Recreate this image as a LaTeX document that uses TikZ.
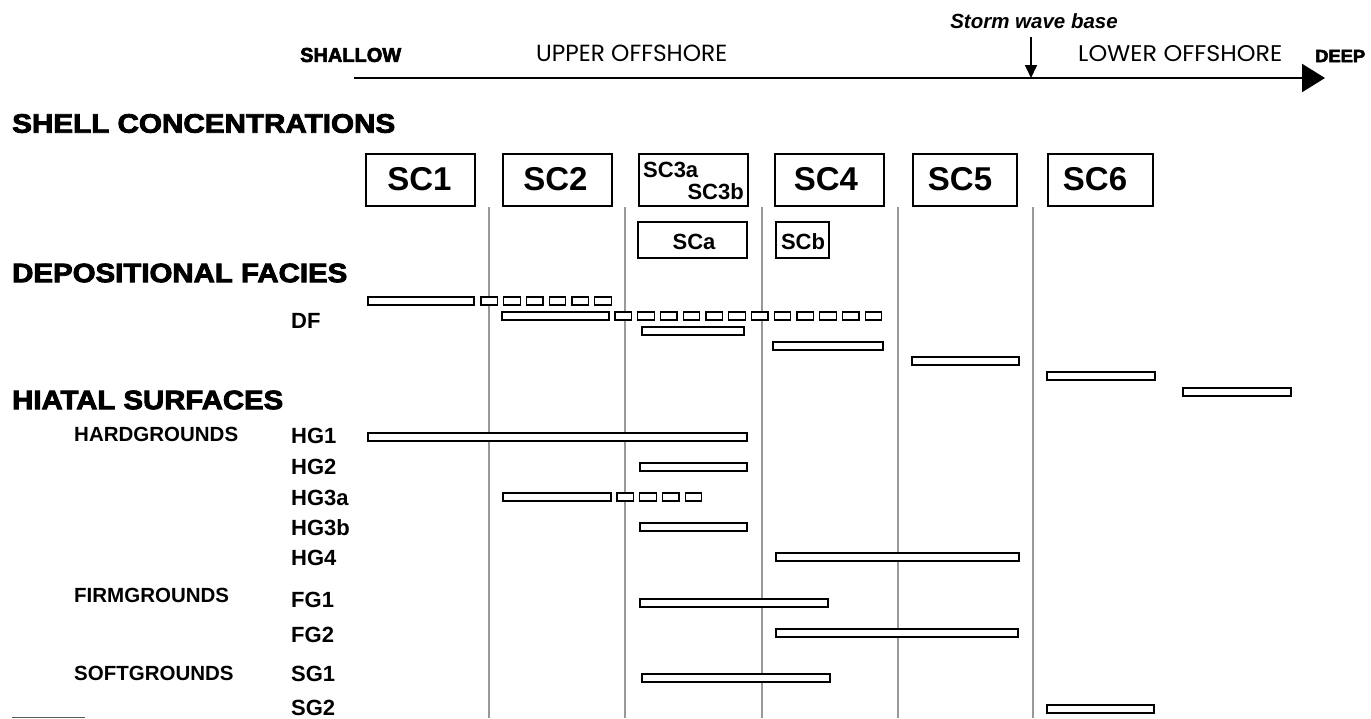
\documentclass[tikz,border=0pt]{standalone}
\usepackage{fontspec}
\usepackage{graphicx}
\setmainfont{Liberation Sans}
\newfontfamily\heavyfont{Liberation Sans}[BoldFeatures={FakeBold=3}]
\newfontfamily\comicfont{Poppins}
\usetikzlibrary{arrows.meta}
\newcommand\fitt[3]{\resizebox{#1pt}{#2pt}{#3}}
\newcommand\seg[3]{\draw[barline] ({#1},{#3-4}) rectangle ({#2},{#3+4});}
\newcommand\dseg[3]{\foreach \k in {1,...,#2}{\draw[barline] ({#1+(\k-1)*22.75},{#3-4}) rectangle ({#1+(\k-1)*22.75+16.5},{#3+4});}}
\tikzset{
 barline/.style={draw=black, line width=1.3pt, fill=white},
 vline/.style={draw=black!40, line width=1.2pt},
 scbox/.style={draw, line width=1.3pt, minimum height=52pt, inner sep=0pt},
 sctxt/.style={font=\fontsize{33}{33}\selectfont\bfseries, inner sep=0pt},
 smtxt/.style={font=\fontsize{22}{22}\selectfont\bfseries, inner sep=0pt},
 lbl/.style={font=\fontsize{22}{22}\selectfont\bfseries, inner sep=0pt, anchor=west},
 grp/.style={font=\fontsize{20.5}{20.5}\selectfont\bfseries, inner sep=0pt, anchor=west},
 hd/.style={inner sep=0pt, anchor=west},
}
\begin{document}
\begin{tikzpicture}[x=1pt,y=-1pt]
\useasboundingbox[fill=white] (0,0) rectangle (1371,718);
% axis
\coordinate (axs) at (354,78);
\coordinate (axe) at (1325,78);
\draw[line width=2.3pt, -{Triangle[length=23pt,width=28pt]}] (axs) -- (axe);
\coordinate (swbtop) at (1031,37);
\coordinate (swbbot) at (1031,78);
\draw[line width=1.7pt, -{Triangle[length=13pt,width=12pt]}] (swbtop) -- (swbbot);
\node[font=\fontsize{20.5}{20.5}\selectfont\bfseries\itshape, anchor=base, inner sep=0pt] (swb) at (1034,28) {Storm wave base};
\node[hd] (shallow) at (300,55) {\fitt{101}{14}{\heavyfont\bfseries SHALLOW}};
\node[hd] (upper) at (536,53.5) {\fitt{191}{16.5}{\comicfont UPPER OFFSHORE}};
\node[hd] (lower) at (1078,54) {\fitt{204}{16}{\comicfont LOWER OFFSHORE}};
\node[hd] (deep) at (1315,56) {\fitt{50}{12}{\heavyfont\bfseries DEEP}};
% headings
\node[hd] (hshell) at (12,123.5) {\fitt{383}{18.6}{\heavyfont\bfseries SHELL CONCENTRATIONS}};
\node[hd] (hdep) at (12,273) {\fitt{335}{18.6}{\heavyfont\bfseries DEPOSITIONAL FACIES}};
\node[hd] (hhiat) at (12,400) {\fitt{271}{18.6}{\heavyfont\bfseries HIATAL SURFACES}};
% vertical lines
\foreach \xx/\nm in {489/a,625/b,762/c,898/d,1033/e}{
  \coordinate (v\nm t) at (\xx,207);
  \coordinate (v\nm b) at (\xx,718);
  \draw[vline] (v\nm t) -- (v\nm b);
}
% SC boxes
\node[scbox, minimum width=109pt] (sc1) at (420.5,180) {};
\node[scbox, minimum width=109pt] (sc2) at (557.5,180) {};
\node[scbox, minimum width=109pt] (sc3) at (693.5,180) {};
\node[scbox, minimum width=109pt] (sc4) at (829.5,180) {};
\node[scbox, minimum width=104pt] (sc5) at (965,180) {};
\node[scbox, minimum width=105pt] (sc6) at (1100.5,180) {};
\node[sctxt] (sc1l) at (419.5,179) {SC1};
\node[sctxt] (sc2l) at (555.5,179) {SC2};
\node[sctxt] (sc4l) at (826,179) {SC4};
\node[sctxt] (sc5l) at (960,179) {SC5};
\node[sctxt] (sc6l) at (1095,179) {SC6};
\node[smtxt, anchor=west] (sc3a) at (643,170) {SC3a};
\node[smtxt, anchor=east] (sc3b) at (744,192) {SC3b};
\node[scbox, minimum width=109pt, minimum height=36pt] (sca) at (692.5,240) {};
\node[scbox, minimum width=53pt, minimum height=36pt] (scb) at (802.5,240) {};
\node[smtxt] (scal) at (694,242) {SCa};
\node[smtxt] (scbl) at (803,242) {SCb};
% DF
\node[lbl] (df) at (291,321) {DF};
\seg{368}{474}{301} \dseg{481}{6}{301}
\seg{502}{609}{316} \dseg{615}{12}{316}
\seg{642}{744}{331}
\seg{773}{883}{346}
\seg{912}{1019}{361}
\seg{1047}{1155}{376}
\seg{1183}{1291}{392}
% hiatal
\node[grp] (hard) at (74,434.5) {HARDGROUNDS};
\node[grp] (firm) at (74,595.5) {FIRMGROUNDS};
\node[grp] (soft) at (74,673.5) {SOFTGROUNDS};
\node[lbl] (hg1) at (291,436) {HG1};
\node[lbl] (hg2) at (291,467) {HG2};
\node[lbl] (hg3a) at (291,497.5) {HG3a};
\node[lbl] (hg3b) at (291,528) {HG3b};
\node[lbl] (hg4) at (291,558) {HG4};
\node[lbl] (fg1) at (291,599.5) {FG1};
\node[lbl] (fg2) at (291,634.5) {FG2};
\node[lbl] (sg1) at (291,674) {SG1};
\node[lbl] (sg2) at (291,707.5) {SG2};
\seg{368}{747}{437}
\seg{640}{747}{467}
\seg{503}{611}{497} \dseg{617}{4}{497}
\seg{640}{747}{527}
\seg{776}{1019}{557}
\seg{640}{828}{603}
\seg{776}{1018}{633}
\seg{642}{830}{678}
\seg{1047}{1154}{709}
% bottom-left rule
\coordinate (bl1) at (12,717);
\coordinate (bl2) at (85,717);
\draw[draw=black!65, line width=1pt] (bl1) -- (bl2);
\end{tikzpicture}
\end{document}
